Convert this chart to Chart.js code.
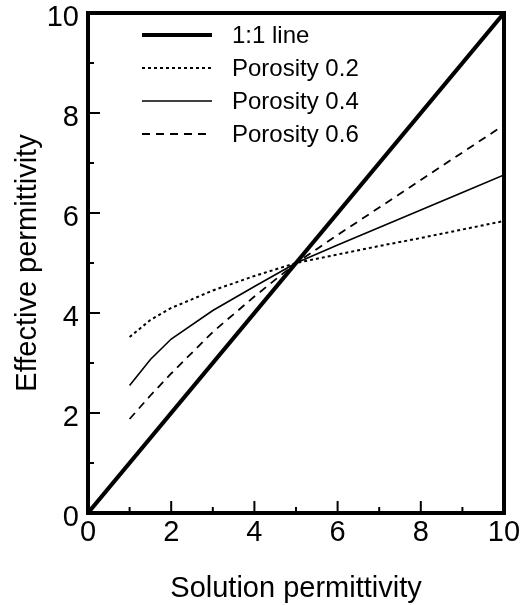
<!DOCTYPE html>
<html><head><meta charset="utf-8">
<script src="https://cdn.jsdelivr.net/npm/chart.js@4/dist/chart.umd.min.js"></script>
<style>html,body{margin:0;padding:0;background:#fff}#wrap{width:526px;height:605px;position:relative}</style>
</head><body><div id="wrap"><canvas id="c"></canvas></div>
<script>
// ---- data ----
const solutionX   = [1, 1.5, 2, 3, 4, 5, 6, 7, 8, 9, 10];
const oneToOneX   = [0, 10];
const oneToOneY   = [0, 10];
const porosity02  = [3.52, 3.86, 4.10, 4.45, 4.74, 5.00, 5.17, 5.34, 5.50, 5.67, 5.84];
const porosity04  = [2.55, 3.07, 3.48, 4.05, 4.53, 5.00, 5.36, 5.71, 6.06, 6.41, 6.76];
const porosity06  = [1.88, 2.35, 2.79, 3.62, 4.33, 5.00, 5.56, 6.11, 6.66, 7.21, 7.76];
const seriesLabels = ['1:1 line', 'Porosity 0.2', 'Porosity 0.4', 'Porosity 0.6'];
const xTitle = 'Solution permittivity';
const yTitle = 'Effective permittivity';
const axisMin = 0, axisMax = 10, labelStep = 2, minorStep = 1;

const toPts = (xs, ys) => xs.map((v, i) => ({x: v, y: ys[i]}));
const FONT = '"Liberation Sans", Arial, Helvetica, sans-serif';

const decor = {
  id: 'decor',
  afterDatasetsDraw(chart) {
    const {ctx, chartArea: a, scales: {x, y}} = chart;
    ctx.save();
    ctx.strokeStyle = '#000';
    ctx.setLineDash([]);
    ctx.lineWidth = 4;
    ctx.strokeRect(a.left, a.top, a.right - a.left, a.bottom - a.top);
    ctx.lineWidth = 2;
    x.ticks.forEach(t => {
      if (t.value <= axisMin || t.value >= axisMax) return;
      const p = x.getPixelForValue(t.value);
      const L = (t.value % labelStep === 0) ? 12 : 6;
      ctx.beginPath(); ctx.moveTo(p, a.bottom); ctx.lineTo(p, a.bottom - L); ctx.stroke();
    });
    y.ticks.forEach(t => {
      if (t.value <= axisMin || t.value >= axisMax) return;
      const p = y.getPixelForValue(t.value);
      const L = (t.value % labelStep === 0) ? 12 : 6;
      ctx.beginPath(); ctx.moveTo(a.left, p); ctx.lineTo(a.left + L, p); ctx.stroke();
    });
    // legend
    ctx.fillStyle = '#000';
    ctx.font = '24px ' + FONT;
    ctx.textBaseline = 'middle';
    ctx.textAlign = 'left';
    chart.data.datasets.forEach((ds, i) => {
      const yy = 35 + 33 * i;
      ctx.lineWidth = ds.borderWidth;
      ctx.setLineDash(ds.borderDash || []);
      ctx.beginPath(); ctx.moveTo(142, yy); ctx.lineTo(212, yy); ctx.stroke();
      ctx.setLineDash([]);
      ctx.fillText(ds.label, 232, yy + 1);
    });
    // axis titles
    ctx.font = '29px ' + FONT;
    ctx.textAlign = 'center';
    ctx.textBaseline = 'alphabetic';
    ctx.fillText(xTitle, (a.left + a.right) / 2, 597);
    ctx.save();
    ctx.translate(36, (a.top + a.bottom) / 2);
    ctx.rotate(-Math.PI / 2);
    ctx.fillText(yTitle, 0, 0);
    ctx.restore();
    ctx.restore();
  }
};

const tickCb = v => (v % labelStep === 0 ? String(v) : '');

new Chart(document.getElementById('c'), {
  type: 'line',
  data: {
    datasets: [
      {label: seriesLabels[0], data: toPts(oneToOneX, oneToOneY), borderColor: '#000', borderWidth: 4, borderDash: [], pointRadius: 0, tension: 0},
      {label: seriesLabels[1], data: toPts(solutionX, porosity02), borderColor: '#000', borderWidth: 2, borderDash: [3, 3], pointRadius: 0, tension: 0},
      {label: seriesLabels[2], data: toPts(solutionX, porosity04), borderColor: '#000', borderWidth: 1.6, borderDash: [], pointRadius: 0, tension: 0},
      {label: seriesLabels[3], data: toPts(solutionX, porosity06), borderColor: '#000', borderWidth: 1.8, borderDash: [8, 6], pointRadius: 0, tension: 0}
    ]
  },
  options: {
    responsive: true,
    maintainAspectRatio: false,
    animation: false,
    events: [],
    layout: {padding: {top: 13, right: 22, left: 0, bottom: 0}},
    plugins: {legend: {display: false}, tooltip: {enabled: false}},
    scales: {
      x: {
        type: 'linear', min: axisMin, max: axisMax,
        grid: {display: false, drawTicks: false}, border: {display: false},
        ticks: {stepSize: minorStep, autoSkip: false, maxRotation: 0, callback: tickCb, color: '#000', padding: 3, font: {family: FONT, size: 29}},
        afterFit(s) { s.height = 92; s.paddingLeft = 0; s.paddingRight = 0; }
      },
      y: {
        type: 'linear', min: axisMin, max: axisMax,
        grid: {display: false, drawTicks: false}, border: {display: false},
        ticks: {stepSize: minorStep, autoSkip: false, callback: tickCb, color: '#000', padding: 9, labelOffset: 5, font: {family: FONT, size: 29}},
        afterFit(s) { s.width = 88; s.paddingTop = 0; s.paddingBottom = 0; }
      }
    }
  },
  plugins: [decor]
});
</script>
</body></html>
